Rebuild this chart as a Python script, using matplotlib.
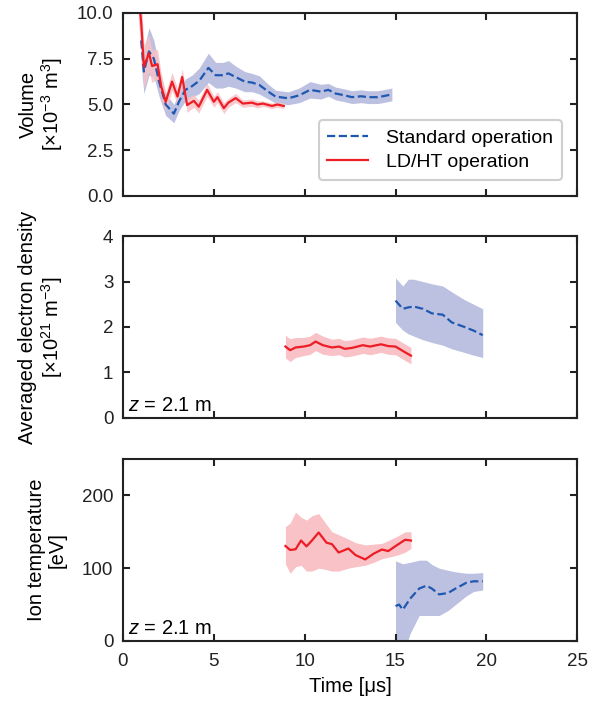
import numpy as np
import matplotlib
matplotlib.use("Agg")
import matplotlib.pyplot as plt

plt.rcParams['font.family'] = ['Liberation Sans', 'DejaVu Sans']
plt.rcParams['mathtext.fontset'] = 'custom'
plt.rcParams['mathtext.rm'] = 'Liberation Sans'
plt.rcParams['mathtext.it'] = 'Liberation Sans:italic'
plt.rcParams['font.size'] = 14

# ---- Volume panel ----
vol_std_t = [1.0, 1.15, 1.43, 1.7, 2.0, 2.35, 2.8, 3.1, 3.44, 3.8, 4.2, 4.7, 5.1, 5.5,
             5.8, 6.2, 6.7, 7.1, 7.5, 8.0, 8.4, 9.1, 9.7, 10.3, 10.9, 11.3, 11.7, 12.2,
             12.6, 13.1, 13.5, 14.0, 14.3, 14.8]
vol_std = [8.5, 6.8, 7.9, 7.5, 6.2, 5.0, 4.5, 5.2, 5.8, 6.0, 6.3, 7.0, 6.6, 6.6,
           6.7, 6.5, 6.25, 6.2, 6.07, 5.7, 5.43, 5.34, 5.5, 5.8, 5.7, 5.8, 5.6, 5.5,
           5.4, 5.45, 5.4, 5.4, 5.45, 5.55]
vol_std_err = [1.3, 1.2, 1.3, 1.0, 0.8, 0.6, 0.5, 0.5, 0.6, 0.6, 0.7, 0.8, 0.7, 0.7,
               0.7, 0.6, 0.55, 0.5, 0.5, 0.4, 0.35, 0.35, 0.4, 0.45, 0.4, 0.35, 0.35, 0.35,
               0.35, 0.35, 0.35, 0.35, 0.35, 0.35]

vol_ld_t = [0.85, 1.0, 1.15, 1.43, 1.6, 1.9, 2.1, 2.35, 2.7, 3.0, 3.26, 3.53, 3.9, 4.17,
            4.63, 5.0, 5.2, 5.55, 5.8, 6.2, 6.6, 7.1, 7.4, 7.7, 8.2, 8.5, 8.85]
vol_ld = [11.0, 9.5, 7.07, 7.8, 7.1, 7.2, 6.0, 5.15, 6.25, 5.43, 6.5, 4.97, 5.2, 4.88,
          5.8, 5.15, 5.4, 4.8, 5.1, 5.35, 5.05, 5.1, 5.0, 5.05, 4.92, 5.0, 4.92]
vol_ld_err = [1.5, 1.5, 1.2, 1.0, 0.9, 0.8, 0.7, 0.5, 0.5, 0.45, 0.45, 0.4, 0.35, 0.35,
              0.35, 0.3, 0.3, 0.3, 0.25, 0.25, 0.2, 0.2, 0.2, 0.15, 0.15, 0.15, 0.15]

# ---- Density panel ----
ne_std_t = [15.0, 15.4, 15.7, 16.0, 16.5, 17.0, 17.6, 18.1, 18.8, 19.3, 19.8]
ne_std = [2.58, 2.4, 2.43, 2.45, 2.4, 2.3, 2.27, 2.1, 2.0, 1.92, 1.82]
ne_std_lo = [2.1, 1.93, 1.85, 1.8, 1.72, 1.66, 1.6, 1.52, 1.44, 1.38, 1.33]
ne_std_hi = [3.08, 2.9, 3.05, 3.05, 3.0, 2.95, 2.9, 2.77, 2.6, 2.5, 2.4]

ne_ld_t = [8.94, 9.2, 9.5, 9.95, 10.3, 10.6, 11.0, 11.5, 11.9, 12.2, 12.6, 13.2, 13.6,
           14.2, 14.6, 15.0, 15.5, 15.85]
ne_ld = [1.57, 1.49, 1.55, 1.57, 1.6, 1.68, 1.6, 1.55, 1.57, 1.52, 1.54, 1.6, 1.57,
         1.62, 1.58, 1.57, 1.45, 1.37]
ne_ld_err = [0.25, 0.25, 0.22, 0.2, 0.2, 0.2, 0.2, 0.18, 0.18, 0.18, 0.18, 0.18, 0.18,
             0.18, 0.18, 0.18, 0.18, 0.18]

# ---- Ion temperature panel ----
ti_std_t = [15.0, 15.2, 15.4, 15.8, 16.3, 16.7, 17.0, 17.4, 17.9, 18.3, 18.9, 19.3, 19.8]
ti_std = [48, 50, 43, 58, 72, 76, 72, 64, 66, 72, 80, 82, 82]
ti_std_lo = [-20, -20, -20, 10, 35, 35, 35, 35, 42, 50, 62, 68, 70]
ti_std_hi = [110, 108, 106, 108, 111, 111, 105, 100, 97, 95, 93, 93, 94]

ti_ld_t = [8.94, 9.2, 9.5, 9.8, 10.1, 10.4, 10.77, 11.2, 11.5, 11.87, 12.4, 12.8, 13.33,
           13.8, 14.25, 14.6, 15.1, 15.53, 15.85]
ti_ld = [130.5, 125, 126, 138, 130, 138, 149, 135, 133, 121.5, 127, 118, 112,
         120, 125.6, 123.5, 132, 139, 138]
ti_ld_lo = [106, 93, 102, 104, 96, 96, 100, 98, 96, 96, 100, 102, 104,
            108, 113, 115, 118, 122, 127]
ti_ld_hi = [157, 162, 177, 170, 166, 172, 175, 160, 150, 146, 140, 135, 132,
            133, 134, 138, 144, 150, 150]

blue = '#1f58b0'
blue_fill = '#bcc1e1'
red = '#ee1c25'
red_fill = '#f8c2c6'

fig = plt.figure(figsize=(6.0, 7.02), dpi=100)
left, width = 0.205, 0.757
ax1 = fig.add_axes([left, 0.7208, width, 0.2607])
ax2 = fig.add_axes([left, 0.4046, width, 0.2592])
ax3 = fig.add_axes([left, 0.0869, width, 0.2593])


def style(ax):
    ax.tick_params(direction='in', top=True, right=True, length=5, width=1.5,
                   labelsize=13.5, pad=7, colors='#222222')
    for s in ax.spines.values():
        s.set_linewidth(1.5)
        s.set_color('#222222')
    ax.set_xlim(0, 25)
    ax.set_xticks([0, 5, 10, 15, 20, 25])


# volume
ax1.fill_between(vol_std_t, np.array(vol_std) - vol_std_err, np.array(vol_std) + vol_std_err,
                 color=blue_fill, lw=0)
ax1.fill_between(vol_ld_t, np.array(vol_ld) - vol_ld_err, np.array(vol_ld) + vol_ld_err,
                 color=red_fill, lw=0, alpha=0.85)
ax1.plot(vol_std_t, vol_std, '--', color=blue, lw=1.6, label='Standard operation')
ax1.plot(vol_ld_t, vol_ld, '-', color=red, lw=1.6, label='LD/HT operation')
style(ax1)
ax1.set_ylim(0, 10)
ax1.set_yticks([0, 2.5, 5, 7.5, 10])
ax1.set_yticklabels(['0.0', '2.5', '5.0', '7.5', '10.0'])
ax1.set_xticklabels([])
ax1.set_ylabel('Volume\n[$\\times$10$^{-3}$ m$^3$]', fontsize=14.5, linespacing=1.1)
ax1.yaxis.set_label_coords(-0.127, 0.5)
leg = ax1.legend(loc='lower right', bbox_to_anchor=(0.987, 0.035), fontsize=14,
                 handlelength=2.1, handletextpad=0.9, framealpha=1,
                 edgecolor='#cfcfcf', borderpad=0.45, labelspacing=0.35)
leg.get_frame().set_linewidth(1.5)

# density
ax2.fill_between(ne_std_t, ne_std_lo, ne_std_hi, color=blue_fill, lw=0)
ax2.fill_between(ne_ld_t, np.array(ne_ld) - ne_ld_err, np.array(ne_ld) + ne_ld_err,
                 color=red_fill, lw=0)
ax2.plot(ne_std_t, ne_std, '--', color=blue, lw=1.6)
ax2.plot(ne_ld_t, ne_ld, '-', color=red, lw=1.6)
style(ax2)
ax2.set_ylim(0, 4)
ax2.set_yticks([0, 1, 2, 3, 4])
ax2.set_xticklabels([])
ax2.set_ylabel('Averaged electron density\n[$\\times$10$^{21}$ m$^{-3}$]', fontsize=14.5,
               linespacing=1.1)
ax2.yaxis.set_label_coords(-0.127, 0.5)
ax2.text(0.012, 0.04, '$z$ = 2.1 m', transform=ax2.transAxes, fontsize=14.5)

# ion temperature
ax3.fill_between(ti_std_t, ti_std_lo, ti_std_hi, color=blue_fill, lw=0)
ax3.fill_between(ti_ld_t, ti_ld_lo, ti_ld_hi, color=red_fill, lw=0)
ax3.plot(ti_std_t, ti_std, '--', color=blue, lw=1.6)
ax3.plot(ti_ld_t, ti_ld, '-', color=red, lw=1.6)
style(ax3)
ax3.tick_params(axis='x', pad=9)
ax3.set_ylim(0, 250)
ax3.set_yticks([0, 100, 200])
ax3.set_ylabel('Ion temperature\n[eV]', fontsize=14.5, linespacing=1.1)
ax3.yaxis.set_label_coords(-0.125, 0.5)
ax3.set_xlabel('Time [\u03bcs]', fontsize=14.5, labelpad=5)
ax3.text(0.012, 0.04, '$z$ = 2.1 m', transform=ax3.transAxes, fontsize=14.5)

fig.savefig('out.png', dpi=100)
